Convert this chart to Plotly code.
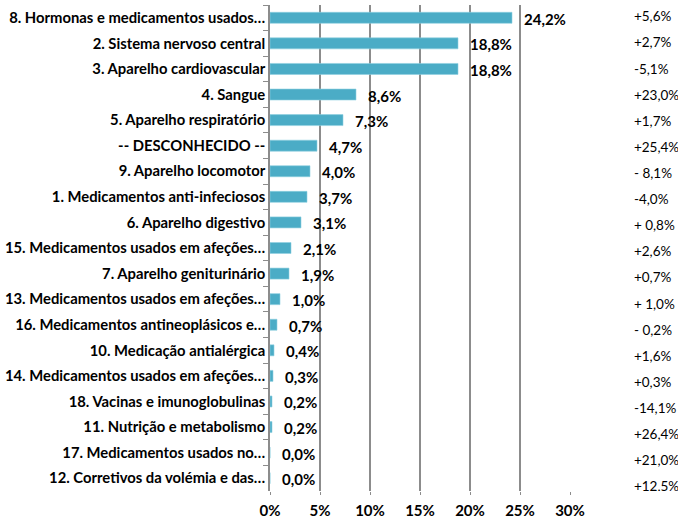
import plotly.graph_objects as go

categorias = [
    "8. Hormonas e medicamentos usados…",
    "2. Sistema nervoso central",
    "3. Aparelho cardiovascular",
    "4. Sangue",
    "5. Aparelho respiratório",
    "-- DESCONHECIDO --",
    "9. Aparelho locomotor",
    "1. Medicamentos anti-infeciosos",
    "6. Aparelho digestivo",
    "15. Medicamentos usados em afeções…",
    "7. Aparelho geniturinário",
    "13. Medicamentos usados em afeções…",
    "16. Medicamentos antineoplásicos e…",
    "10. Medicação antialérgica",
    "14. Medicamentos usados em afeções…",
    "18. Vacinas e imunoglobulinas",
    "11. Nutrição e metabolismo",
    "17. Medicamentos usados no…",
    "12. Corretivos da volémia e das…",
]
quota = [24.2, 18.8, 18.8, 8.6, 7.3, 4.7, 4.0, 3.7, 3.1, 2.1, 1.9,
         1.0, 0.7, 0.4, 0.3, 0.2, 0.2, 0.0, 0.0]
variacao = ["+5,6%", "+2,7%", "-5,1%", "+23,0%", "+1,7%", "+25,4%", "- 8,1%",
            "-4,0%", "+ 0,8%", "+2,6%", "+0,7%", "+ 1,0%", "- 0,2%", "+1,6%",
            "+0,3%", "-14,1%", "+26,4%", "+21,0%", "+12,5%"]

FONT = "Lato"

fig = go.Figure()

fig.add_trace(go.Bar(
    x=quota,
    y=categorias,
    orientation="h",
    marker=dict(color="#4BACC6", line=dict(color="#8fd0e0", width=0.6)),
    width=0.43,
    hoverinfo="skip",
))

# data labels
for c, v in zip(categorias, quota):
    fig.add_annotation(
        x=v, y=c, xref="x", yref="y",
        text="<b>" + f"{v:.1f}".replace(".", ",") + "%</b>",
        showarrow=False, xanchor="left", xshift=10, yshift=-1,
        font=dict(family=FONT, size=15, color="#000000"),
    )

# variation column on its own axis pair
fig.add_trace(go.Scatter(
    x=[0] * len(variacao),
    y=list(range(len(variacao))),
    text=variacao,
    mode="text",
    textposition="middle right",
    textfont=dict(family=FONT, size=13.5, color="#000000"),
    xaxis="x2", yaxis="y2",
    hoverinfo="skip",
))

fig.update_layout(
    width=683,
    height=519,
    margin=dict(l=270, r=5, t=5, b=28),
    plot_bgcolor="white",
    paper_bgcolor="white",
    showlegend=False,
    font=dict(family=FONT, size=14, color="#000000"),
    xaxis=dict(
        domain=[0, 0.7353],
        range=[0, 30],
        dtick=5,
        ticksuffix="%",
        tickfont=dict(family=FONT, size=15, color="#000000", weight="bold"),
        showgrid=True,
        gridcolor="#8c8c8c",
        gridwidth=1.6,
        zeroline=False,
        showline=False,
        ticks="outside",
        ticklen=3,
        tickcolor="#8c8c8c",
        ticklabelstandoff=3,
        automargin=False,
        fixedrange=True,
    ),
    yaxis=dict(
        categoryorder="array",
        categoryarray=categorias,
        autorange="reversed",
        showline=True,
        linecolor="#8c8c8c",
        linewidth=1.6,
        ticks="outside",
        tickson="boundaries",
        ticklen=5,
        tickcolor="#8c8c8c",
        tickwidth=1.4,
        showgrid=False,
        automargin=False,
        tickfont=dict(family=FONT, size=14.8, color="#000000", weight="bold"),
    ),
    xaxis2=dict(domain=[0.892, 1], range=[0, 1], visible=False, automargin=False),
    yaxis2=dict(range=[18.115, -0.498], visible=False, anchor="x2", automargin=False),
)

fig.write_html(
    "out.html",
    config={"responsive": False, "displayModeBar": False},
    post_script="document.body.style.margin='0';document.body.style.overflow='hidden';",
)
